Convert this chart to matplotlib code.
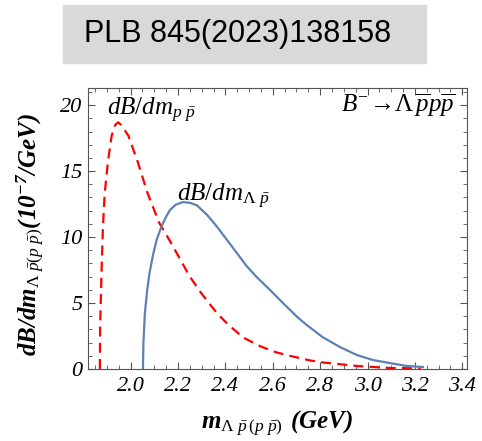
import matplotlib.pyplot as plt
from matplotlib.ticker import MultipleLocator
from matplotlib.patches import Rectangle

plt.rcParams['mathtext.fontset'] = 'custom'
plt.rcParams['mathtext.rm'] = 'Liberation Serif'
plt.rcParams['mathtext.it'] = 'Liberation Serif:italic'
plt.rcParams['mathtext.bf'] = 'Liberation Serif:bold'
plt.rcParams['mathtext.bfit'] = 'Liberation Serif:bold:italic'

# dB/dm_{p pbar}
m_pp = [1.870, 1.871, 1.875, 1.879, 1.883, 1.890, 1.904, 1.920, 1.935, 1.947,
        1.960, 1.990, 2.030, 2.070, 2.120, 2.166, 2.250, 2.300, 2.364, 2.410,
        2.474, 2.550, 2.617, 2.672, 2.757, 2.810, 2.955, 3.090, 3.225]
dB_pp = [0.0, 3.0, 6.0, 8.5, 10.7, 13.2, 15.7, 17.7, 18.5, 18.7,
         18.5, 17.7, 15.7, 13.4, 11.1, 9.7, 7.0, 5.7, 4.24, 3.4,
         2.4, 1.7, 1.25, 1.0, 0.65, 0.5, 0.23, 0.08, 0.05]

# dB/dm_{Lambda pbar}
m_lp = [2.052, 2.054, 2.060, 2.070, 2.080, 2.095, 2.110, 2.130, 2.150, 2.166,
        2.190, 2.220, 2.250, 2.280, 2.322, 2.364, 2.406, 2.448, 2.490, 2.533,
        2.588, 2.643, 2.706, 2.744, 2.810, 2.883, 2.955, 3.023, 3.094, 3.166, 3.234]
dB_lp = [0.0, 2.0, 4.2, 6.0, 7.3, 8.7, 9.8, 10.8, 11.55, 12.05,
         12.45, 12.65, 12.6, 12.4, 11.7, 10.8, 9.8, 8.8, 7.8, 6.95,
         6.0, 5.0, 3.9, 3.33, 2.42, 1.67, 1.06, 0.68, 0.45, 0.23, 0.15]

fig = plt.figure(figsize=(4.82, 4.41), dpi=100)
ax = fig.add_axes([88/482, 1-369/441, 379/482, 281/441])

ax.plot(m_pp, dB_pp, color='#ff0000', lw=1.6, ls=(0, (4.5, 2.8)))
ax.plot(m_lp, dB_lp, color='#5e81b5', lw=1.6)

ax.set_xlim(1.82, 3.42)
ax.set_ylim(0, 21.3)
ax.xaxis.set_major_locator(MultipleLocator(0.2))
ax.xaxis.set_minor_locator(MultipleLocator(0.05))
ax.yaxis.set_major_locator(MultipleLocator(5))
ax.yaxis.set_minor_locator(MultipleLocator(1))
ax.tick_params(which='both', direction='in', top=True, right=True, color='#555555')
ax.tick_params(which='major', length=5)
ax.tick_params(which='minor', length=3)
ax.set_xticks([2.0, 2.2, 2.4, 2.6, 2.8, 3.0, 3.2, 3.4])
ax.set_xticklabels(['2.0', '2.2', '2.4', '2.6', '2.8', '3.0', '3.2', '3.4'])
for lab in ax.get_xticklabels() + ax.get_yticklabels():
    lab.set_family('Liberation Serif')
    lab.set_style('italic')
    lab.set_fontsize(16)
ax.tick_params(axis='x', pad=6)
ax.tick_params(axis='y', pad=4)
for s in ax.spines.values():
    s.set_color('#555555')

ax.set_xlabel(r'$\mathbfit{m}_{\Lambda\ \bar{p}\,(p\ \bar{p})}$ $\mathbfit{(GeV)}$',
              fontsize=18)
ax.set_ylabel(r'$\mathbfit{dB/dm}_{\Lambda\ \bar{p}(p\ \bar{p})}\mathbfit{(10^{-7}/GeV)}$',
              fontsize=18)
ax.xaxis.set_label_coords(0.50, -0.192)
ax.yaxis.set_label_coords(-0.153, 0.477)
ax.xaxis.label.set_va('center')
ax.yaxis.label.set_va('center')

ax.text(1.90, 19.2, r'$dB/dm_{p\ \bar{p}}$', fontsize=18, ha='left', va='baseline')
ax.text(2.195, 12.7, r'$dB/dm_{\Lambda\ \bar{p}}$', fontsize=18, ha='left', va='baseline')
ax.text(3.37, 19.5, r'$B^{-}\!\rightarrow\!\Lambda\,\overline{p}p\overline{p}$',
        fontsize=18, ha='right', va='baseline')

# header box
fig.patches.append(Rectangle((63/482, 1-63/441), 363/482, 58/441,
                             transform=fig.transFigure, color='#d9d9d9', zorder=0))
fig.text(238/482, 1-34/441, 'PLB 845(2023)138158', family='Liberation Sans',
         fontsize=22, ha='center', va='center')

fig.savefig('out.png', dpi=100)
